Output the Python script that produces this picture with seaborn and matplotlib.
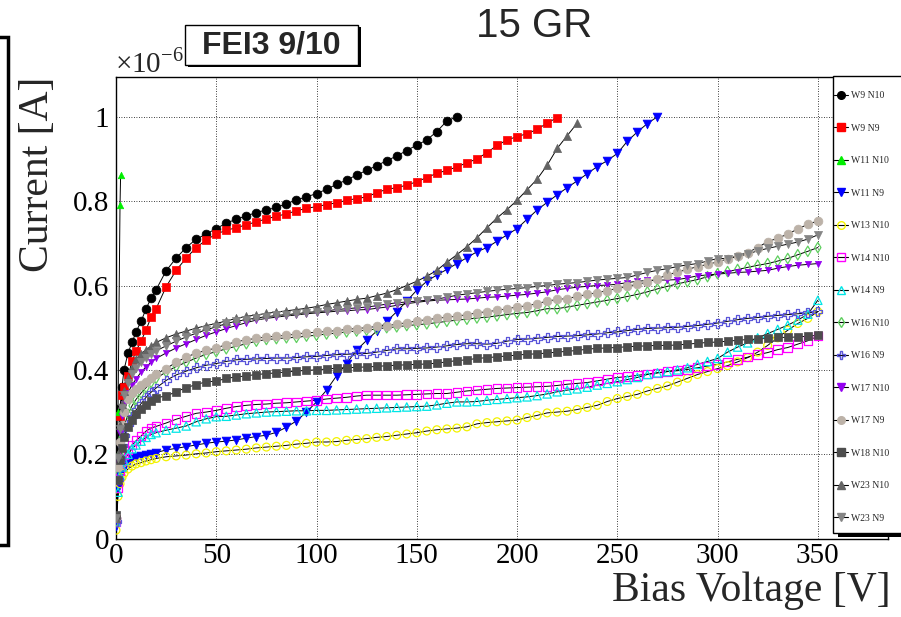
import matplotlib
matplotlib.use("Agg")
import matplotlib.pyplot as plt
from matplotlib.lines import Line2D
from matplotlib.patches import Rectangle
from matplotlib.ticker import MultipleLocator, FuncFormatter
import seaborn as sns

# bias voltage steps [V] (shared, each series uses the first len(current) steps)
volts = [0, 1, 2, 3, 4, 6, 8, 10, 12.5, 15, 17.5,
         20, 25, 30, 35, 40, 45, 50, 55, 60, 65,
         70, 75, 80, 85, 90, 95, 100, 105, 110, 115,
         120, 125, 130, 135, 140, 145, 150, 155, 160, 165,
         170, 175, 180, 185, 190, 195, 200, 205, 210, 215,
         220, 225, 230, 235, 240, 245, 250, 255, 260, 265,
         270, 275, 280, 285, 290, 295, 300, 305, 310, 315,
         320, 325, 330, 335, 340, 345, 350]
volts_w11_n10 = [0, 1, 2, 2.3]

# leakage current in units of 1e-6 A
w9_n10 = [0.05, 0.22, 0.31, 0.36, 0.40, 0.44, 0.465, 0.49, 0.515, 0.545, 0.57,
          0.59, 0.635, 0.665, 0.69, 0.71, 0.722, 0.735, 0.748, 0.757, 0.765,
          0.773, 0.779, 0.785, 0.794, 0.803, 0.81, 0.818, 0.828, 0.84, 0.85,
          0.862, 0.873, 0.884, 0.896, 0.907, 0.92, 0.933, 0.945, 0.965, 0.99,
          1.0]
w9_n9 = [0.05, 0.18, 0.29, 0.34, 0.36, 0.385, 0.42, 0.445, 0.468, 0.495, 0.525,
         0.545, 0.597, 0.636, 0.665, 0.69, 0.708, 0.722, 0.731, 0.737, 0.744,
         0.751, 0.758, 0.764, 0.77, 0.777, 0.783, 0.787, 0.792, 0.796, 0.802,
         0.806, 0.81, 0.82, 0.828, 0.832, 0.838, 0.846, 0.856, 0.866, 0.873,
         0.881, 0.891, 0.9, 0.915, 0.932, 0.945, 0.953, 0.96, 0.97, 0.985,
         0.998]
w11_n10 = [0.05, 0.3, 0.79, 0.862]
w11_n9 = [0.03, 0.12, 0.15, 0.16, 0.17, 0.18, 0.19, 0.193, 0.196, 0.199, 0.201,
          0.204, 0.21, 0.214, 0.218, 0.222, 0.226, 0.229, 0.231, 0.234, 0.238,
          0.242, 0.245, 0.252, 0.264, 0.279, 0.3, 0.324, 0.352, 0.386, 0.415,
          0.447, 0.47, 0.492, 0.515, 0.538, 0.563, 0.589, 0.61, 0.625, 0.638,
          0.652, 0.666, 0.68, 0.69, 0.705, 0.72, 0.735, 0.757, 0.779, 0.797,
          0.815, 0.832, 0.848, 0.865, 0.882, 0.896, 0.913, 0.942, 0.964, 0.984,
          1.0]
w13_n10 = [0.02, 0.1, 0.13, 0.145, 0.155, 0.165, 0.172, 0.177, 0.18, 0.184, 0.187,
           0.19, 0.194, 0.196, 0.198, 0.201, 0.203, 0.206, 0.208, 0.21, 0.212,
           0.215, 0.217, 0.219, 0.221, 0.224, 0.226, 0.229, 0.229, 0.23, 0.233,
           0.235, 0.237, 0.24, 0.242, 0.245, 0.248, 0.251, 0.255, 0.258, 0.26,
           0.262, 0.265, 0.272, 0.275, 0.277, 0.279, 0.281, 0.287, 0.292, 0.298,
           0.3, 0.302, 0.306, 0.311, 0.316, 0.325, 0.332, 0.337, 0.342, 0.35,
           0.356, 0.362, 0.371, 0.38, 0.389, 0.396, 0.403, 0.41, 0.419, 0.429,
           0.442, 0.458, 0.476, 0.494, 0.51, 0.522, 0.538]
w14_n10 = [0.04, 0.12, 0.16, 0.185, 0.198, 0.21, 0.222, 0.232, 0.243, 0.255, 0.262,
           0.266, 0.274, 0.283, 0.29, 0.297, 0.3, 0.304, 0.309, 0.313, 0.316,
           0.318, 0.319, 0.321, 0.322, 0.324, 0.326, 0.328, 0.331, 0.333, 0.335,
           0.338, 0.34, 0.34, 0.34, 0.34, 0.341, 0.342, 0.343, 0.344, 0.344,
           0.347, 0.35, 0.352, 0.354, 0.356, 0.357, 0.358, 0.359, 0.36, 0.361,
           0.363, 0.366, 0.368, 0.37, 0.374, 0.378, 0.382, 0.384, 0.387, 0.39,
           0.393, 0.396, 0.398, 0.401, 0.405, 0.409, 0.413, 0.419, 0.425, 0.43,
           0.436, 0.441, 0.448, 0.453, 0.461, 0.469, 0.48]
w14_n9 = [0.04, 0.11, 0.15, 0.17, 0.185, 0.2, 0.213, 0.222, 0.231, 0.24, 0.247,
          0.251, 0.257, 0.262, 0.267, 0.277, 0.284, 0.289, 0.29, 0.293, 0.296,
          0.298, 0.3, 0.301, 0.302, 0.303, 0.303, 0.304, 0.304, 0.305, 0.306,
          0.307, 0.308, 0.309, 0.31, 0.311, 0.312, 0.313, 0.314, 0.317, 0.321,
          0.324, 0.324, 0.325, 0.328, 0.33, 0.332, 0.334, 0.336, 0.339, 0.343,
          0.348, 0.352, 0.355, 0.359, 0.364, 0.368, 0.372, 0.377, 0.382, 0.389,
          0.393, 0.396, 0.4, 0.405, 0.413, 0.42, 0.427, 0.442, 0.454, 0.464,
          0.476, 0.486, 0.496, 0.506, 0.518, 0.532, 0.565]
w16_n10 = [0.04, 0.15, 0.2, 0.24, 0.265, 0.295, 0.315, 0.33, 0.345, 0.358, 0.37,
           0.38, 0.395, 0.408, 0.418, 0.428, 0.437, 0.443, 0.45, 0.456, 0.462,
           0.468, 0.472, 0.474, 0.476, 0.477, 0.48, 0.482, 0.485, 0.487, 0.49,
           0.492, 0.494, 0.497, 0.5, 0.502, 0.505, 0.507, 0.509, 0.512, 0.515,
           0.518, 0.52, 0.523, 0.525, 0.528, 0.531, 0.534, 0.536, 0.54, 0.545,
           0.545, 0.549, 0.553, 0.557, 0.561, 0.565, 0.569, 0.574, 0.579, 0.585,
           0.592, 0.598, 0.604, 0.609, 0.614, 0.621, 0.628, 0.633, 0.638, 0.643,
           0.648, 0.652, 0.658, 0.664, 0.673, 0.681, 0.69]
w16_n9 = [0.04, 0.14, 0.19, 0.22, 0.245, 0.27, 0.29, 0.305, 0.32, 0.335, 0.347,
          0.357, 0.375, 0.388, 0.397, 0.405, 0.411, 0.415, 0.42, 0.424, 0.425,
          0.426, 0.427, 0.428, 0.428, 0.429, 0.431, 0.432, 0.434, 0.436, 0.437,
          0.438, 0.439, 0.442, 0.446, 0.45, 0.45, 0.451, 0.452, 0.454, 0.457,
          0.46, 0.462, 0.462, 0.461, 0.463, 0.468, 0.472, 0.473, 0.475, 0.477,
          0.479, 0.48, 0.481, 0.483, 0.485, 0.488, 0.49, 0.493, 0.496, 0.498,
          0.499, 0.5, 0.501, 0.503, 0.505, 0.508, 0.511, 0.515, 0.519, 0.522,
          0.524, 0.527, 0.529, 0.531, 0.533, 0.535, 0.538]
w17_n10 = [0.05, 0.18, 0.25, 0.29, 0.32, 0.345, 0.365, 0.378, 0.395, 0.407, 0.418,
           0.427, 0.44, 0.452, 0.462, 0.472, 0.482, 0.49, 0.498, 0.505, 0.512,
           0.518, 0.522, 0.525, 0.528, 0.53, 0.533, 0.535, 0.537, 0.539, 0.54,
           0.542, 0.543, 0.546, 0.549, 0.553, 0.557, 0.56, 0.563, 0.565, 0.566,
           0.567, 0.568, 0.57, 0.572, 0.573, 0.575, 0.577, 0.579, 0.582, 0.585,
           0.59, 0.593, 0.596, 0.598, 0.6, 0.601, 0.603, 0.607, 0.61, 0.612,
           0.613, 0.613, 0.614, 0.618, 0.623, 0.625, 0.627, 0.629, 0.631, 0.632,
           0.634, 0.636, 0.641, 0.645, 0.648, 0.65, 0.652]
w17_n9 = [0.05, 0.17, 0.23, 0.27, 0.3, 0.33, 0.345, 0.355, 0.365, 0.372, 0.38,
          0.39, 0.403, 0.418, 0.43, 0.44, 0.446, 0.452, 0.46, 0.467, 0.471,
          0.475, 0.478, 0.48, 0.482, 0.485, 0.488, 0.489, 0.491, 0.493, 0.496,
          0.498, 0.5, 0.503, 0.505, 0.508, 0.512, 0.516, 0.519, 0.522, 0.525,
          0.527, 0.531, 0.535, 0.538, 0.541, 0.545, 0.549, 0.552, 0.557, 0.563,
          0.567, 0.569, 0.574, 0.579, 0.583, 0.588, 0.593, 0.598, 0.603, 0.608,
          0.616, 0.625, 0.632, 0.638, 0.645, 0.65, 0.656, 0.663, 0.671, 0.678,
          0.69, 0.704, 0.712, 0.722, 0.734, 0.745, 0.753]
w18_n10 = [0.055, 0.14, 0.186, 0.215, 0.24, 0.265, 0.282, 0.295, 0.307, 0.316, 0.326,
           0.334, 0.338, 0.348, 0.358, 0.365, 0.372, 0.373, 0.38, 0.383, 0.386,
           0.389, 0.391, 0.393, 0.395, 0.397, 0.399, 0.4, 0.402, 0.404, 0.405,
           0.406, 0.407, 0.408, 0.41, 0.411, 0.412, 0.413, 0.414, 0.416, 0.419,
           0.422, 0.424, 0.427, 0.429, 0.431, 0.433, 0.435, 0.437, 0.438, 0.44,
           0.442, 0.444, 0.446, 0.449, 0.451, 0.452, 0.453, 0.455, 0.456, 0.457,
           0.458, 0.458, 0.459, 0.461, 0.463, 0.465, 0.466, 0.468, 0.47, 0.472,
           0.473, 0.475, 0.477, 0.477, 0.478, 0.48, 0.482]
w23_n10 = [0.05, 0.2, 0.27, 0.32, 0.35, 0.38, 0.405, 0.425, 0.438, 0.448, 0.456,
           0.465, 0.476, 0.485, 0.492, 0.499, 0.505, 0.51, 0.516, 0.522, 0.527,
           0.53, 0.534, 0.537, 0.54, 0.543, 0.546, 0.55, 0.555, 0.559, 0.563,
           0.567, 0.57, 0.576, 0.582, 0.59, 0.6, 0.61, 0.622, 0.636, 0.655,
           0.673, 0.692, 0.713, 0.737, 0.76, 0.78, 0.802, 0.827, 0.852, 0.885,
           0.925, 0.955, 0.985]
w23_n9 = [0.05, 0.19, 0.26, 0.31, 0.34, 0.37, 0.39, 0.405, 0.418, 0.428, 0.437,
          0.445, 0.457, 0.468, 0.478, 0.487, 0.495, 0.502, 0.51, 0.515, 0.519,
          0.523, 0.526, 0.529, 0.531, 0.533, 0.536, 0.538, 0.54, 0.543, 0.545,
          0.547, 0.549, 0.552, 0.556, 0.559, 0.561, 0.563, 0.565, 0.568, 0.572,
          0.577, 0.58, 0.583, 0.586, 0.589, 0.591, 0.593, 0.595, 0.598, 0.6,
          0.603, 0.605, 0.607, 0.61, 0.613, 0.615, 0.617, 0.619, 0.625, 0.631,
          0.636, 0.64, 0.645, 0.649, 0.652, 0.658, 0.664, 0.664, 0.668, 0.675,
          0.682, 0.688, 0.693, 0.698, 0.703, 0.71, 0.72]

labels = ['W9 N10', 'W9 N9', 'W11 N10', 'W11 N9', 'W13 N10', 'W14 N10', 'W14 N9',
          'W16 N10', 'W16 N9', 'W17 N10', 'W17 N9', 'W18 N10', 'W23 N10', 'W23 N9']
currents = [w9_n10, w9_n9, w11_n10, w11_n9, w13_n10, w14_n10, w14_n9,
            w16_n10, w16_n9, w17_n10, w17_n9, w18_n10, w23_n10, w23_n9]
# marker, colour, filled, size
styles = [('o', '#000000', True, 40), ('s', '#ff0000', True, 40),
          ('^', '#00ee00', True, 22), ('v', '#0000ff', True, 40),
          ('o', '#f2f200', False, 32), ('s', '#ff00ff', False, 38),
          ('^', '#00e5e5', False, 36), ('d', '#5fcf5f', False, 28),
          ('P', '#5a55d9', False, 42), ('v', '#9400f0', True, 20),
          ('o', '#bcb2a8', True, 40), ('s', '#4d4d4d', True, 40),
          ('^', '#646464', True, 34), ('v', '#858585', True, 34)]

sns.set_theme(style='white')
plt.rcParams['font.family'] = ['Liberation Serif', 'DejaVu Serif']
plt.rcParams['mathtext.fontset'] = 'custom'
plt.rcParams['mathtext.rm'] = 'Liberation Serif'

fig = plt.figure(figsize=(9.01, 6.17), dpi=100)
ax = fig.add_axes([116 / 901, 1 - 538.6 / 617, 772 / 901, 461.9 / 617])

for lab, cur, (m, c, filled, s) in zip(labels, currents, styles):
    v = volts_w11_n10 if lab == 'W11 N10' else volts[:len(cur)]
    sns.lineplot(x=v, y=cur, color='black', lw=0.7, sort=False, estimator=None,
                 legend=False, ax=ax)
    if filled:
        sns.scatterplot(x=v, y=cur, marker=m, s=s, color=c, edgecolor=c,
                        linewidth=0.5, legend=False, ax=ax, zorder=3)
    else:
        sns.scatterplot(x=v, y=cur, marker=m, s=s, facecolor='none', edgecolor=c,
                        linewidth=0.9, legend=False, ax=ax, zorder=3)

ax.set_xlim(0, 385)
ax.set_ylim(0, 1.095)
ax.xaxis.set_major_locator(MultipleLocator(50))
ax.xaxis.set_minor_locator(MultipleLocator(10))
ax.yaxis.set_major_locator(MultipleLocator(0.2))
ax.yaxis.set_minor_locator(MultipleLocator(0.05))
ax.yaxis.set_major_formatter(FuncFormatter(lambda y, p: '%g' % round(y, 3)))
ax.tick_params(which='both', direction='in', top=False, right=False,
               labelsize=21, colors='black', width=0.9)
ax.tick_params(axis='y', which='major', length=14, pad=5)
ax.tick_params(axis='y', which='minor', length=7)
ax.tick_params(axis='x', which='major', length=11, pad=3)
ax.tick_params(axis='x', which='minor', length=6)
ax.grid(True, which='major', linestyle=(0, (1, 2)), color='black', linewidth=0.6)
for sp in ax.spines.values():
    sp.set_color('black')
    sp.set_linewidth(1)

ax.set_xlabel('Bias Voltage [V]', fontsize=30, loc='right')
ax.xaxis.set_label_coords(1.003, -0.072)
ax.set_ylabel('Current [A]', fontsize=30, loc='top')
ax.yaxis.set_label_coords(-0.077, 1.0)

fig.text(534 / 901, 1 - 26 / 617, '15 GR', family=['Liberation Sans'], fontsize=29,
         ha='center', va='center')
fig.text(115 / 901, 1 - 72 / 617, r'$\times10^{-6}$', fontsize=21, ha='left',
         va='baseline')

# FEI3 label box with shadow
fig.patches.append(Rectangle((188 / 901, 1 - 67 / 617), 173 / 901, 40 / 617,
                             transform=fig.transFigure, fc='black', ec='none', zorder=4))
fig.patches.append(Rectangle((185 / 901, 1 - 65 / 617), 173 / 901, 40 / 617,
                             transform=fig.transFigure, fc='white', ec='black', lw=1,
                             zorder=5))
fig.text(271 / 901, 1 - 46 / 617, 'FEI3 9/10', family=['Liberation Sans'],
         fontweight='bold', fontsize=23, ha='center', va='center', zorder=6)

# edge of the neighbouring pad on the left
fig.patches.append(Rectangle((-20 / 901, 1 - 545 / 617), 28 / 901, 508 / 617,
                             transform=fig.transFigure, fc='none', ec='black', lw=2.5,
                             zorder=4))

# legend pave
fig.patches.append(Rectangle((838 / 901, 1 - 537 / 617), 80 / 901, 460 / 617,
                             transform=fig.transFigure, fc='black', ec='none', zorder=4))
fig.patches.append(Rectangle((833 / 901, 1 - 533 / 617), 80 / 901, 457 / 617,
                             transform=fig.transFigure, fc='white', ec='black', lw=1,
                             zorder=5))
handles = []
for m, c, filled, s in styles:
    handles.append(Line2D([], [], color='black', lw=0.8, marker=m, markersize=5.5,
                          markerfacecolor=c if filled else 'none',
                          markeredgecolor=c))
leg = fig.legend(handles, labels, loc='upper left',
                 bbox_to_anchor=(834 / 901, 1 - 91 / 617), frameon=False,
                 fontsize=7, handlelength=1.4, handletextpad=0.3, labelspacing=2.42,
                 borderpad=0, borderaxespad=0)
leg.set_zorder(7)

fig.savefig('out.png', dpi=100)
